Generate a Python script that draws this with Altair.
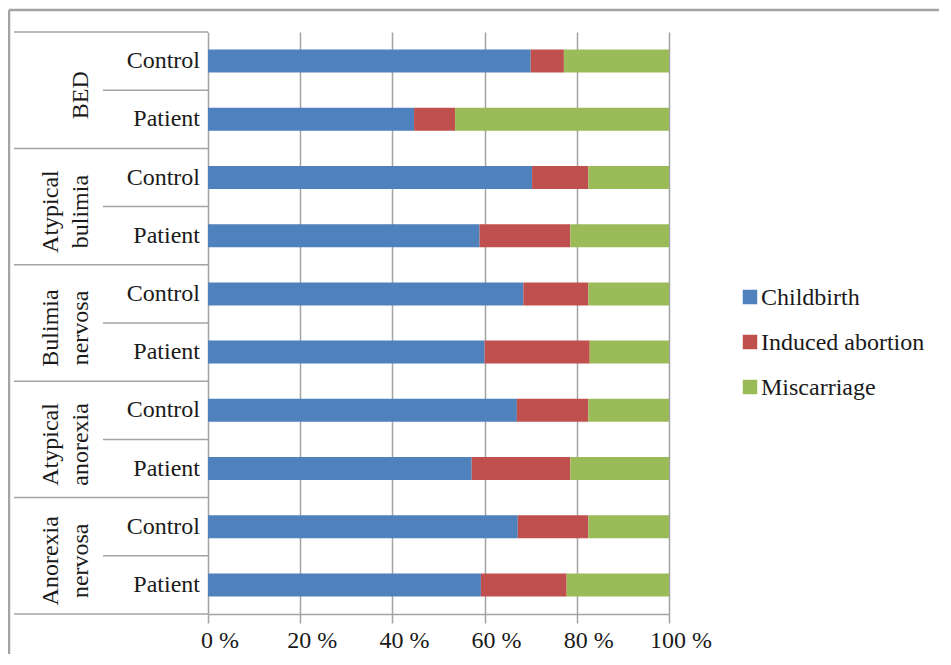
import altair as alt
import pandas as pd

FONT = "Liberation Serif"

groups = ["BED", "Atypical bulimia", "Bulimia nervosa", "Atypical anorexia", "Anorexia nervosa"]
group_labels = [" \nBED", "Atypical\nbulimia", "Bulimia\nnervosa", "Atypical\nanorexia", "Anorexia\nnervosa"]
subgroups = ["Control", "Patient"]
outcomes = ["Childbirth", "Induced abortion", "Miscarriage"]
childbirth = [70.0, 44.7, 70.3, 58.9, 68.4, 60.0, 67.0, 57.2, 67.2, 59.2]
induced = [7.2, 8.9, 12.2, 19.7, 14.1, 22.8, 15.5, 21.4, 15.3, 18.6]
miscarriage = [22.8, 46.4, 17.5, 21.4, 17.5, 17.2, 17.5, 21.4, 17.5, 22.2]
x_ticks = [0, 20, 40, 60, 80, 100]
x_tick_labels = ["0 %", "20 %", "40 %", "60 %", "80 %", "100 %"]
colors = ["#4F81BD", "#C0504D", "#9BBB59"]

rows = [f"{g}|{s}" for g in groups for s in subgroups]
records = []
for i, r in enumerate(rows):
    for k, (name, vals) in enumerate(zip(outcomes, [childbirth, induced, miscarriage])):
        records.append({"row": r, "outcome": name, "value": vals[i], "ord": k})
df = pd.DataFrame(records)

sub_df = pd.DataFrame({"row": rows, "sub": [s for g in groups for s in subgroups]})
ctrl_rows = [f"{g}|Control" for g in groups]
grp_df = pd.DataFrame({"row": ctrl_rows, "label": group_labels})
bottom_df = pd.DataFrame({"row": [rows[-1]]})
tick_df = pd.DataFrame({"value": x_ticks, "label": x_tick_labels})
leg_df = pd.DataFrame({"outcome": outcomes})
frame_df = pd.DataFrame({"k": [0]})

GRAY = "#a3a3a3"
TXT = "#1a1a1a"
FS = 24

yscale = alt.Scale(type="band", domain=rows, paddingInner=0, paddingOuter=0)
xscale = alt.Scale(domain=[0, 100], nice=False)
xaxis = alt.Axis(values=x_ticks, labels=False, title=None,
                 grid=True, gridColor=GRAY, gridWidth=1.5,
                 domainColor=GRAY, domainWidth=1.5,
                 tickColor=GRAY, tickWidth=1.5, tickSize=9)
cscale = alt.Scale(domain=outcomes, range=colors)

bars = alt.Chart(df).mark_bar(height=alt.RelativeBandSize(0.395)).encode(
    y=alt.Y("row:N", scale=yscale, axis=None),
    x=alt.X("value:Q", stack="zero", scale=xscale, axis=xaxis),
    color=alt.Color("outcome:N", scale=cscale, legend=None),
    order=alt.Order("ord:Q"),
)

sub_text = alt.Chart(sub_df).mark_text(
    align="right", baseline="middle", font=FONT, fontSize=FS, color=TXT, dx=-8, angle=360,
).encode(
    y=alt.Y("row:N", scale=yscale, axis=None),
    x=alt.value(0),
    text="sub:N",
)

tick_text = alt.Chart(tick_df).mark_text(
    align="center", baseline="alphabetic", font=FONT, fontSize=FS, color=TXT, dx=12, angle=360,
).encode(
    x=alt.X("value:Q", scale=xscale, axis=xaxis),
    y=alt.value(616),
    text="label:N",
)

sep_rules = alt.Chart(grp_df).mark_rule(color=GRAY, strokeWidth=1.5).encode(
    y=alt.Y("row:N", scale=yscale, axis=None, bandPosition=0),
    x=alt.value(-194), x2=alt.value(0),
)
inner_rules = alt.Chart(grp_df).mark_rule(color=GRAY, strokeWidth=1.5).encode(
    y=alt.Y("row:N", scale=yscale, axis=None, bandPosition=1),
    x=alt.value(-105), x2=alt.value(0),
)
bottom_rule = alt.Chart(bottom_df).mark_rule(color=GRAY, strokeWidth=1.5).encode(
    y=alt.Y("row:N", scale=yscale, axis=None, bandPosition=1),
    x=alt.value(-194), x2=alt.value(0),
)
grp_text = alt.Chart(grp_df).mark_text(
    angle=270, align="center", baseline="middle", lineBreak="\n", lineHeight=30,
    fontSize=FS, color=TXT, yOffset=5, font=FONT,
).encode(
    y=alt.Y("row:N", scale=yscale, axis=None, bandPosition=1),
    x=alt.value(-157),
    text="label:N",
)

leg_scale = alt.Scale(domain=outcomes, range=[265, 355], padding=0)
leg_sym = alt.Chart(leg_df).mark_square(size=210, opacity=1, strokeWidth=0).encode(
    y=alt.Y("outcome:N", scale=leg_scale, axis=None),
    x=alt.value(542),
    color=alt.Color("outcome:N", scale=cscale, legend=None),
)
leg_text = alt.Chart(leg_df).mark_text(
    align="left", baseline="middle", font=FONT, fontSize=FS, color=TXT, dy=1, angle=360,
).encode(
    y=alt.Y("outcome:N", scale=leg_scale, axis=None),
    x=alt.value(553),
    text="outcome:N",
)

frame_top = alt.Chart(frame_df).mark_rule(color=GRAY, strokeWidth=2.5).encode(
    y=alt.value(-22), x=alt.value(-199), x2=alt.value(740),
)
frame_left = alt.Chart(frame_df).mark_rule(color=GRAY, strokeWidth=2.5).encode(
    x=alt.value(-199), y=alt.value(-22), y2=alt.value(640),
)

chart = alt.layer(
    bars, sub_text, tick_text, sep_rules, inner_rules, bottom_rule, grp_text,
    leg_sym, leg_text, frame_top, frame_left,
).resolve_scale(y="independent").properties(
    width=461, height=582,
    autosize=alt.AutoSizeParams(type="none"),
    padding={"left": 200, "top": 24, "right": 270, "bottom": 40},
).configure(font=FONT).configure_view(stroke=None)

chart.save("out.html", embed_options={"renderer": "svg", "actions": False})
